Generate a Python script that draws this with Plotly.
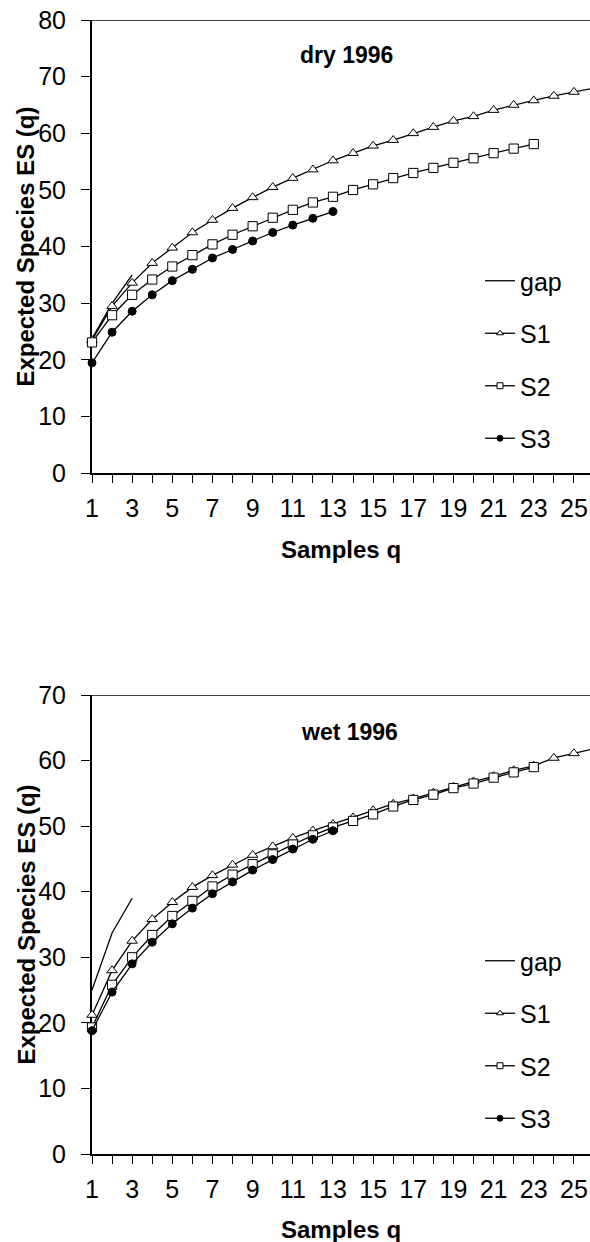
import plotly.graph_objects as go

# Sample sizes (q) and expected species ES(q), dry season 1996
dry_q_gap = [1, 2, 3]
dry_gap = [23.8, 30.0, 35.0]
dry_q_s1 = list(range(1, 27))
dry_s1 = [23.5, 29.5, 33.6, 37.1, 39.8, 42.5, 44.7, 46.8, 48.7, 50.5,
          52.1, 53.6, 55.2, 56.5, 57.8, 58.8, 60.0, 61.1, 62.2, 63.0,
          64.1, 65.0, 65.8, 66.6, 67.3, 68.0]
dry_q_s2 = list(range(1, 24))
dry_s2 = [23.1, 27.9, 31.5, 34.2, 36.5, 38.5, 40.4, 42.1, 43.6, 45.1,
          46.5, 47.8, 48.8, 50.0, 51.0, 52.1, 53.0, 53.9, 54.8, 55.6,
          56.5, 57.3, 58.1]
dry_q_s3 = list(range(1, 14))
dry_s3 = [19.5, 24.9, 28.6, 31.5, 34.0, 36.0, 38.0, 39.5, 41.0, 42.5,
          43.8, 45.0, 46.2]

# Wet season 1996
wet_q_gap = [1, 2, 3]
wet_gap = [25.0, 33.7, 39.0]
wet_q_s1 = list(range(1, 27))
wet_s1 = [21.2, 28.0, 32.5, 35.8, 38.4, 40.7, 42.5, 44.1, 45.6, 46.9,
          48.2, 49.3, 50.3, 51.3, 52.4, 53.4, 54.2, 55.1, 56.0, 56.8,
          57.6, 58.5, 59.2, 60.4, 61.1, 61.8]
wet_q_s2 = list(range(1, 24))
wet_s2 = [19.3, 25.8, 30.0, 33.4, 36.3, 38.6, 40.8, 42.6, 44.2, 45.7,
          47.2, 48.6, 49.8, 50.8, 51.8, 53.0, 54.0, 54.8, 55.8, 56.5,
          57.4, 58.2, 59.0]
wet_q_s3 = list(range(1, 14))
wet_s3 = [18.8, 24.7, 29.0, 32.3, 35.1, 37.5, 39.7, 41.5, 43.3, 44.9,
          46.5, 48.0, 49.3]

x_tick_vals = [1, 3, 5, 7, 9, 11, 13, 15, 17, 19, 21, 23, 25]
x_tick_text = [str(v) for v in x_tick_vals]
dry_y_ticks = [0, 10, 20, 30, 40, 50, 60, 70, 80]
wet_y_ticks = [0, 10, 20, 30, 40, 50, 60, 70]

FONT = "Arial, 'Liberation Sans', sans-serif"
W, H = 590, 1242

fig = go.Figure()

series_style = {
    "gap": dict(mode="lines", marker=None),
    "S1": dict(mode="lines+markers",
               marker=dict(symbol="triangle-up", size=9.2, color="white",
                           line=dict(color="black", width=1))),
    "S2": dict(mode="lines+markers",
               marker=dict(symbol="square", size=9.2, color="white",
                           line=dict(color="black", width=1))),
    "S3": dict(mode="lines+markers",
               marker=dict(symbol="circle", size=8, color="black",
                           line=dict(color="black", width=1))),
}
legend_marker = {
    "S1": dict(symbol="triangle-up", size=6, color="white", line=dict(color="black", width=1)),
    "S2": dict(symbol="square", size=6, color="white", line=dict(color="black", width=1)),
    "S3": dict(symbol="circle", size=6, color="black", line=dict(color="black", width=1)),
}

panels = [
    ("x", "y", "legend", [(dry_q_gap, dry_gap, "gap"), (dry_q_s1, dry_s1, "S1"),
                          (dry_q_s2, dry_s2, "S2"), (dry_q_s3, dry_s3, "S3")]),
    ("x2", "y2", "legend2", [(wet_q_gap, wet_gap, "gap"), (wet_q_s1, wet_s1, "S1"),
                             (wet_q_s2, wet_s2, "S2"), (wet_q_s3, wet_s3, "S3")]),
]

for xa, ya, lg, series in panels:
    for qs, vals, name in series:
        st = series_style[name]
        kw = dict(x=qs, y=vals, name=name, xaxis=xa, yaxis=ya,
                  mode=st["mode"], line=dict(color="black", width=1.3),
                  showlegend=False, cliponaxis=False, hoverinfo="skip")
        if st["marker"] is not None:
            kw["marker"] = st["marker"]
        fig.add_trace(go.Scatter(**kw))
    # legend entries with smaller symbols
    for qs, vals, name in series:
        kw = dict(x=[None], y=[None], name=name, xaxis=xa, yaxis=ya,
                  mode=series_style[name]["mode"], line=dict(color="black", width=1.3),
                  legend=lg, legendgroup=lg + name, showlegend=True)
        if name in legend_marker:
            kw["marker"] = legend_marker[name]
        fig.add_trace(go.Scatter(**kw))


def py(px):
    return 1 - px / H


x_dom = [92 / W, 1.0]
common_x = dict(range=[1, 25.8], tickvals=x_tick_vals, ticktext=x_tick_text,
                ticks="outside", ticklen=8, tickwidth=1.3, tickcolor="black",
                minor=dict(dtick=1, tick0=1, ticks="outside", ticklen=8,
                           tickwidth=1.3, tickcolor="black", showgrid=False),
                showline=True, linewidth=2, linecolor="black",
                showgrid=False, zeroline=False, layer="below traces",
                automargin=False,
                tickfont=dict(family=FONT, size=25, color="black"),
                ticklabelstandoff=4, domain=x_dom)
common_y = dict(ticks="outside", ticklen=9, tickwidth=1.3, tickcolor="black",
                showline=True, linewidth=2, linecolor="black",
                showgrid=False, zeroline=False, layer="below traces",
                automargin=False,
                tickfont=dict(family=FONT, size=25, color="black"),
                ticklabelstandoff=10)

dry_dom = [py(473.3), py(20)]
wet_dom = [py(1154), py(695)]

fig.update_layout(
    template="none",
    width=W, height=H, margin=dict(l=0, r=0, t=0, b=0, autoexpand=False),
    paper_bgcolor="white", plot_bgcolor="white",
    font=dict(family=FONT, size=25, color="black"),
    xaxis=dict(anchor="y", **common_x),
    yaxis=dict(anchor="x", domain=dry_dom, range=[0, 80],
               tickvals=dry_y_ticks, **common_y),
    xaxis2=dict(anchor="y2", **common_x),
    yaxis2=dict(anchor="x2", domain=wet_dom, range=[0, 70],
                tickvals=wet_y_ticks, **common_y),
    legend=dict(x=480 / W, y=py(258), xanchor="left", yanchor="top",
                bgcolor="rgba(0,0,0,0)", tracegroupgap=17, borderwidth=0,
                font=dict(family=FONT, size=25, color="black")),
    legend2=dict(x=480 / W, y=py(938), xanchor="left", yanchor="top",
                 bgcolor="rgba(0,0,0,0)", tracegroupgap=17, borderwidth=0,
                 font=dict(family=FONT, size=25, color="black")),
    showlegend=True,
)

# frame line along the top of each plot area
for xr, yr, top in [("x domain", "y", 80), ("x2 domain", "y2", 70)]:
    fig.add_shape(type="line", xref=xr, yref=yr, x0=0, x1=1, y0=top, y1=top,
                  line=dict(color="black", width=1.3), layer="below")

cx = (x_dom[0] + x_dom[1]) / 2
title_font = dict(family=FONT, size=23, color="black")
label_font = dict(family=FONT, size=24, color="black")
annos = [
    dict(text="<b>dry 1996</b>", x=346 / W, y=py(55), font=title_font),
    dict(text="<b>wet 1996</b>", x=349 / W, y=py(732), font=title_font),
    dict(text="<b>Samples q</b>", x=cx, y=py(549), font=label_font),
    dict(text="<b>Samples q</b>", x=cx, y=py(1229), font=label_font),
    dict(text="<b>Expected Species ES (q)</b>", x=26 / W, y=py(246.6),
         font=label_font, textangle=-90),
    dict(text="<b>Expected Species ES (q)</b>", x=26 / W, y=py(924.5),
         font=label_font, textangle=-90),
]
for a in annos:
    fig.add_annotation(xref="paper", yref="paper", showarrow=False,
                       xanchor="center", yanchor="middle", **a)

fig.write_html("out.html")
